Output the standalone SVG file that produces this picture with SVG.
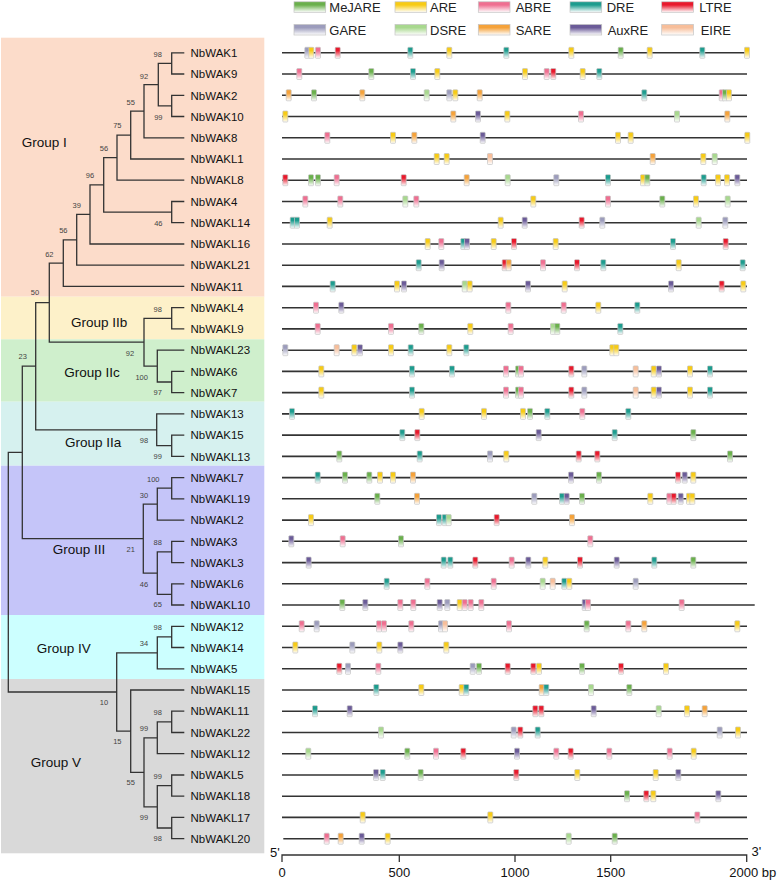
<svg xmlns="http://www.w3.org/2000/svg" width="777" height="884" viewBox="0 0 777 884">
<style>
text{font-family:"Liberation Sans",Arial,sans-serif;fill:#111}
.lf{font-size:11.5px}
.gp{font-size:13.5px}
.bs{font-size:7.5px;fill:#444;text-anchor:middle}
.lg{font-size:13px;fill:#222}
.ax{font-size:13px;fill:#111}
.ln{stroke:#333;stroke-width:1.6}
.tr{fill:none;stroke:#333;stroke-width:1.3}
.sw{stroke:#c4c4c4;stroke-width:0.7}
</style>
<defs>
<linearGradient id="gMe" x1="0" y1="0" x2="0" y2="1"><stop offset="0" stop-color="#6AB04C"/><stop offset="0.3" stop-color="#6AB04C"/><stop offset="1" stop-color="#fff"/></linearGradient>
<linearGradient id="gAR" x1="0" y1="0" x2="0" y2="1"><stop offset="0" stop-color="#F7CB15"/><stop offset="0.3" stop-color="#F7CB15"/><stop offset="1" stop-color="#fff"/></linearGradient>
<linearGradient id="gAB" x1="0" y1="0" x2="0" y2="1"><stop offset="0" stop-color="#EF6F91"/><stop offset="0.3" stop-color="#EF6F91"/><stop offset="1" stop-color="#fff"/></linearGradient>
<linearGradient id="gDR" x1="0" y1="0" x2="0" y2="1"><stop offset="0" stop-color="#1D9C8E"/><stop offset="0.3" stop-color="#1D9C8E"/><stop offset="1" stop-color="#fff"/></linearGradient>
<linearGradient id="gLT" x1="0" y1="0" x2="0" y2="1"><stop offset="0" stop-color="#E8192C"/><stop offset="0.3" stop-color="#E8192C"/><stop offset="1" stop-color="#fff"/></linearGradient>
<linearGradient id="gGA" x1="0" y1="0" x2="0" y2="1"><stop offset="0" stop-color="#9C9CBC"/><stop offset="0.3" stop-color="#9C9CBC"/><stop offset="1" stop-color="#fff"/></linearGradient>
<linearGradient id="gDS" x1="0" y1="0" x2="0" y2="1"><stop offset="0" stop-color="#A8D88E"/><stop offset="0.3" stop-color="#A8D88E"/><stop offset="1" stop-color="#fff"/></linearGradient>
<linearGradient id="gSA" x1="0" y1="0" x2="0" y2="1"><stop offset="0" stop-color="#F5A23A"/><stop offset="0.3" stop-color="#F5A23A"/><stop offset="1" stop-color="#fff"/></linearGradient>
<linearGradient id="gAX" x1="0" y1="0" x2="0" y2="1"><stop offset="0" stop-color="#6B5B98"/><stop offset="0.3" stop-color="#6B5B98"/><stop offset="1" stop-color="#fff"/></linearGradient>
<linearGradient id="gEI" x1="0" y1="0" x2="0" y2="1"><stop offset="0" stop-color="#F7BE9A"/><stop offset="0.3" stop-color="#F7BE9A"/><stop offset="1" stop-color="#fff"/></linearGradient>
<rect id="Me" x="-2.5" y="-5.5" width="5" height="11" rx="0.8" fill="url(#gMe)" class="sw"/>
<rect id="AR" x="-2.5" y="-5.5" width="5" height="11" rx="0.8" fill="url(#gAR)" class="sw"/>
<rect id="AB" x="-2.5" y="-5.5" width="5" height="11" rx="0.8" fill="url(#gAB)" class="sw"/>
<rect id="DR" x="-2.5" y="-5.5" width="5" height="11" rx="0.8" fill="url(#gDR)" class="sw"/>
<rect id="LT" x="-2.5" y="-5.5" width="5" height="11" rx="0.8" fill="url(#gLT)" class="sw"/>
<rect id="GA" x="-2.5" y="-5.5" width="5" height="11" rx="0.8" fill="url(#gGA)" class="sw"/>
<rect id="DS" x="-2.5" y="-5.5" width="5" height="11" rx="0.8" fill="url(#gDS)" class="sw"/>
<rect id="SA" x="-2.5" y="-5.5" width="5" height="11" rx="0.8" fill="url(#gSA)" class="sw"/>
<rect id="AX" x="-2.5" y="-5.5" width="5" height="11" rx="0.8" fill="url(#gAX)" class="sw"/>
<rect id="EI" x="-2.5" y="-5.5" width="5" height="11" rx="0.8" fill="url(#gEI)" class="sw"/>
</defs>
<rect width="777" height="884" fill="#fff"/>
<g id="group-bands">
<rect x="1" y="37.7" width="263.3" height="259" fill="#FCDCCA"/>
<rect x="1" y="296.7" width="263.3" height="42.6" fill="#FDF1C9"/>
<rect x="1" y="339.3" width="263.3" height="62.4" fill="#CFEFCC"/>
<rect x="1" y="401.7" width="263.3" height="64" fill="#D6F1EF"/>
<rect x="1" y="465.7" width="263.3" height="149.3" fill="#C5C5F9"/>
<rect x="1" y="615" width="263.3" height="64" fill="#CCFFFF"/>
<rect x="1" y="679" width="263.3" height="174.3" fill="#D9D9D9"/>
<text class="gp" x="21.7" y="147">Group I</text>
<text class="gp" x="71" y="327">Group IIb</text>
<text class="gp" x="64.3" y="377">Group IIc</text>
<text class="gp" x="65" y="447.3">Group IIa</text>
<text class="gp" x="52.7" y="554">Group III</text>
<text class="gp" x="36.7" y="653.3">Group IV</text>
<text class="gp" x="30.7" y="766.7">Group V</text>
</g>
<g id="legend">
<rect x="294" y="1.8" width="31.7" height="10.5" fill="url(#gMe)" class="sw"/><text class="lg" x="329.3" y="11.7">MeJARE</text>
<rect x="395" y="1.8" width="31.7" height="10.5" fill="url(#gAR)" class="sw"/><text class="lg" x="430" y="11.7">ARE</text>
<rect x="478.3" y="1.8" width="31.7" height="10.5" fill="url(#gAB)" class="sw"/><text class="lg" x="515.7" y="11.7">ABRE</text>
<rect x="570" y="1.8" width="31.7" height="10.5" fill="url(#gDR)" class="sw"/><text class="lg" x="606.7" y="11.7">DRE</text>
<rect x="661.7" y="1.8" width="31.7" height="10.5" fill="url(#gLT)" class="sw"/><text class="lg" x="699.3" y="11.7">LTRE</text>
<rect x="294" y="24.5" width="31.7" height="10.5" fill="url(#gGA)" class="sw"/><text class="lg" x="329.3" y="35">GARE</text>
<rect x="395" y="24.5" width="31.7" height="10.5" fill="url(#gDS)" class="sw"/><text class="lg" x="430" y="35">DSRE</text>
<rect x="478.3" y="24.5" width="31.7" height="10.5" fill="url(#gSA)" class="sw"/><text class="lg" x="515.7" y="35">SARE</text>
<rect x="570" y="24.5" width="31.7" height="10.5" fill="url(#gAX)" class="sw"/><text class="lg" x="607.7" y="35">AuxRE</text>
<rect x="661.7" y="24.5" width="31.7" height="10.5" fill="url(#gEI)" class="sw"/><text class="lg" x="700.7" y="35">EIRE</text>
</g>
<g id="connectors">
<path class="tr" d="M184.3 52.8H171.7V74H184.3 M184.3 95.3H171.7V116.5H184.3 M171.7 63.4H158.3V105.9H171.7 M158.3 84.7H144V137.8H184.3 M144 111.2H130.7V159H184.3 M130.7 135.1H117V180.2H184.3 M184.3 201.5H171.7V222.7H184.3 M117 157.7H103.7V212.1H171.7 M103.7 184.9H90V244H184.3 M90 214.4H76.7V265.2H184.3 M76.7 239.8H63.3V286.4H184.3 M184.3 307.7H171.7V328.9H184.3 M184.3 371.4H171.7V392.6H184.3 M184.3 350.2H157.3V382H171.7 M171.7 318.3H144V366.1H157.3 M63.3 263.1H49.3V342.2H144 M184.3 435.1H171.7V456.4H184.3 M184.3 413.9H156.7V445.7H171.7 M49.3 302.6H35.7V429.8H156.7 M184.3 477.6H171.7V498.8H184.3 M171.7 488.2H157.3V520.1H184.3 M184.3 541.3H171.7V562.6H184.3 M184.3 583.8H171.7V605H184.3 M171.7 551.9H157.3V594.4H171.7 M157.3 504.1H143.3V573.2H157.3 M35.7 366.2H22.3V538.6H143.3 M184.3 626.3H171.7V647.5H184.3 M171.7 636.9H157.3V668.8H184.3 M184.3 711.2H171.7V732.5H184.3 M171.7 721.9H157.3V753.7H184.3 M184.3 775H171.7V796.2H184.3 M184.3 817.4H171.7V838.7H184.3 M171.7 785.6H157.3V828H171.7 M157.3 737.8H144V806.8H157.3 M184.3 690H130.7V772.3H144 M157.3 652.8H116.7V731.2H130.7 M22.3 452.4H8.3V692H116.7"/>
<g id="bootstrap">
<text class="bs" x="157.7" y="57">98</text><text class="bs" x="144" y="78.7">92</text><text class="bs" x="130.7" y="105">55</text><text class="bs" x="158.3" y="120.4">99</text><text class="bs" x="117.3" y="128.4">75</text><text class="bs" x="104" y="151">56</text><text class="bs" x="90" y="177.7">96</text><text class="bs" x="76.7" y="207.7">39</text><text class="bs" x="158.3" y="226">46</text><text class="bs" x="63.3" y="232.7">56</text><text class="bs" x="49.3" y="256.7">62</text><text class="bs" x="35" y="295.4">50</text>
<text class="bs" x="157.7" y="312">98</text><text class="bs" x="130" y="356">92</text><text class="bs" x="22.7" y="359.4">23</text><text class="bs" x="141.7" y="380">100</text><text class="bs" x="157.7" y="395.4">97</text><text class="bs" x="144" y="443.4">98</text><text class="bs" x="157.7" y="459.4">99</text><text class="bs" x="153.3" y="482">100</text><text class="bs" x="144" y="497.7">30</text><text class="bs" x="130.7" y="552">21</text><text class="bs" x="157.7" y="545.4">88</text><text class="bs" x="144" y="586.7">46</text><text class="bs" x="157.7" y="606.7">65</text>
<text class="bs" x="157.7" y="630">98</text><text class="bs" x="144" y="646">34</text><text class="bs" x="104" y="705.4">10</text><text class="bs" x="157.7" y="715.4">98</text><text class="bs" x="144" y="731">99</text><text class="bs" x="117.3" y="744.4">15</text><text class="bs" x="157.7" y="778.7">99</text><text class="bs" x="130.7" y="785.4">55</text><text class="bs" x="144" y="820">99</text><text class="bs" x="157.7" y="841">98</text>
</g>
</g>
<g id="g-NbWAK1" transform="translate(0,52.8)"><text class="lf" x="190.5" y="4.2">NbWAK1</text><line class="ln" x1="282" x2="747"/><use href="#GA" x="307.3"/><use href="#AR" x="311.3"/><use href="#AB" x="318"/><use href="#LT" x="337.7"/><use href="#DR" x="410.3"/><use href="#AR" x="449.3"/><use href="#DR" x="506.3"/><use href="#AR" x="571.3"/><use href="#Me" x="620.7"/><use href="#AR" x="649.7"/><use href="#DR" x="702.3"/><use href="#AR" x="747"/></g>
<g id="g-NbWAK9" transform="translate(0,74)"><text class="lf" x="190.5" y="4.2">NbWAK9</text><line class="ln" x1="282" x2="747"/><use href="#AB" x="299.3"/><use href="#Me" x="371.3"/><use href="#DR" x="413"/><use href="#AR" x="437.3"/><use href="#AR" x="525"/><use href="#AB" x="546.7"/><use href="#LT" x="553.3"/><use href="#AR" x="582.7"/><use href="#DR" x="599.3"/></g>
<g id="g-NbWAK2" transform="translate(0,95.3)"><text class="lf" x="190.5" y="4.2">NbWAK2</text><line class="ln" x1="282" x2="747"/><use href="#SA" x="288.7"/><use href="#Me" x="314"/><use href="#SA" x="362.3"/><use href="#DS" x="426.7"/><use href="#GA" x="449.3"/><use href="#AR" x="455.3"/><use href="#SA" x="479.7"/><use href="#DR" x="644.3"/><use href="#AB" x="721.7"/><use href="#Me" x="725"/><use href="#AR" x="729"/></g>
<g id="g-NbWAK10" transform="translate(0,116.5)"><text class="lf" x="190.5" y="4.2">NbWAK10</text><line class="ln" x1="282" x2="747"/><use href="#AR" x="285.3"/><use href="#SA" x="453.3"/><use href="#AX" x="478"/><use href="#AR" x="507.3"/><use href="#AB" x="581"/><use href="#DS" x="677"/><use href="#SA" x="727.3"/></g>
<g id="g-NbWAK8" transform="translate(0,137.8)"><text class="lf" x="190.5" y="4.2">NbWAK8</text><line class="ln" x1="282" x2="747"/><use href="#AB" x="327.3"/><use href="#AR" x="393"/><use href="#SA" x="414.3"/><use href="#AX" x="482.7"/><use href="#AR" x="618"/><use href="#AR" x="630.7"/><use href="#AR" x="747.3"/></g>
<g id="g-NbWAKL1" transform="translate(0,159)"><text class="lf" x="190.5" y="4.2">NbWAKL1</text><line class="ln" x1="282" x2="747"/><use href="#AR" x="436.7"/><use href="#AR" x="446.7"/><use href="#EI" x="490"/><use href="#SA" x="652.7"/><use href="#AR" x="703.3"/><use href="#DS" x="714.7"/></g>
<g id="g-NbWAKL8" transform="translate(0,180.2)"><text class="lf" x="190.5" y="4.2">NbWAKL8</text><line class="ln" x1="282" x2="747"/><use href="#LT" x="285.3"/><use href="#Me" x="311"/><use href="#Me" x="318"/><use href="#AB" x="336.7"/><use href="#LT" x="403.7"/><use href="#SA" x="466.7"/><use href="#DS" x="507.7"/><use href="#GA" x="556.3"/><use href="#DR" x="608"/><use href="#AR" x="643"/><use href="#Me" x="647.3"/><use href="#DR" x="703.7"/><use href="#AR" x="718"/><use href="#AR" x="727"/><use href="#AX" x="737.3"/></g>
<g id="g-NbWAK4" transform="translate(0,201.5)"><text class="lf" x="190.5" y="4.2">NbWAK4</text><line class="ln" x1="282" x2="747"/><use href="#AB" x="305.3"/><use href="#AB" x="340.3"/><use href="#DS" x="405.3"/><use href="#AB" x="416.3"/><use href="#AR" x="533.3"/><use href="#AB" x="608"/><use href="#Me" x="662.3"/><use href="#AR" x="696"/><use href="#DS" x="727.7"/></g>
<g id="g-NbWAKL14" transform="translate(0,222.7)"><text class="lf" x="190.5" y="4.2">NbWAKL14</text><line class="ln" x1="282" x2="747"/><use href="#DR" x="292.7"/><use href="#DR" x="297"/><use href="#AR" x="329.7"/><use href="#AR" x="500.7"/><use href="#AX" x="524.7"/><use href="#LT" x="581.7"/><use href="#GA" x="602.3"/><use href="#DS" x="698.7"/><use href="#GA" x="725.3"/></g>
<g id="g-NbWAKL16" transform="translate(0,244)"><text class="lf" x="190.5" y="4.2">NbWAKL16</text><line class="ln" x1="282" x2="747"/><use href="#AR" x="427.7"/><use href="#AB" x="441.3"/><use href="#DR" x="463.3"/><use href="#AX" x="467"/><use href="#AR" x="493.7"/><use href="#LT" x="514"/><use href="#AR" x="555.7"/><use href="#DR" x="673"/><use href="#LT" x="725.7"/></g>
<g id="g-NbWAKL21" transform="translate(0,265.2)"><text class="lf" x="190.5" y="4.2">NbWAKL21</text><line class="ln" x1="282" x2="747"/><use href="#DR" x="418.7"/><use href="#AX" x="441.7"/><use href="#LT" x="504.7"/><use href="#SA" x="508.7"/><use href="#AB" x="543"/><use href="#LT" x="577"/><use href="#DR" x="603.3"/><use href="#AR" x="678.7"/><use href="#DR" x="742.7"/></g>
<g id="g-NbWAK11" transform="translate(0,286.4)"><text class="lf" x="190.5" y="4.2">NbWAK11</text><line class="ln" x1="282" x2="747"/><use href="#DR" x="332.7"/><use href="#AR" x="397"/><use href="#AX" x="404"/><use href="#DS" x="464.7"/><use href="#AR" x="469.7"/><use href="#AX" x="528"/><use href="#AR" x="564.7"/><use href="#AX" x="671"/><use href="#LT" x="721.7"/><use href="#AR" x="743.3"/></g>
<g id="g-NbWAKL4" transform="translate(0,307.7)"><text class="lf" x="190.5" y="4.2">NbWAKL4</text><line class="ln" x1="282" x2="747"/><use href="#AB" x="316"/><use href="#AX" x="341.3"/><use href="#AB" x="508.3"/><use href="#AB" x="563.7"/><use href="#AR" x="598.3"/><use href="#DR" x="637.3"/></g>
<g id="g-NbWAKL9" transform="translate(0,328.9)"><text class="lf" x="190.5" y="4.2">NbWAKL9</text><line class="ln" x1="282" x2="747"/><use href="#AB" x="317.7"/><use href="#AB" x="391"/><use href="#Me" x="421.3"/><use href="#AR" x="470.3"/><use href="#AB" x="510.7"/><use href="#DS" x="553"/><use href="#Me" x="557.3"/><use href="#DR" x="620.3"/></g>
<g id="g-NbWAKL23" transform="translate(0,350.2)"><text class="lf" x="190.5" y="4.2">NbWAKL23</text><line class="ln" x1="282" x2="747"/><use href="#GA" x="285.3"/><use href="#EI" x="336.7"/><use href="#AR" x="354.3"/><use href="#AX" x="360"/><use href="#AR" x="391"/><use href="#DR" x="410.7"/><use href="#AR" x="449.3"/><use href="#DR" x="466.3"/><use href="#AR" x="612.3"/><use href="#AR" x="616.3"/></g>
<g id="g-NbWAK6" transform="translate(0,371.4)"><text class="lf" x="190.5" y="4.2">NbWAK6</text><line class="ln" x1="282" x2="747"/><use href="#AR" x="321.3"/><use href="#DR" x="412"/><use href="#DR" x="452"/><use href="#AB" x="506"/><use href="#Me" x="518"/><use href="#AB" x="521"/><use href="#LT" x="571.3"/><use href="#GA" x="584.3"/><use href="#EI" x="635.7"/><use href="#AR" x="653.7"/><use href="#AX" x="659"/><use href="#AR" x="690"/><use href="#DR" x="710"/></g>
<g id="g-NbWAK7" transform="translate(0,392.6)"><text class="lf" x="190.5" y="4.2">NbWAK7</text><line class="ln" x1="282" x2="747"/><use href="#AR" x="321.3"/><use href="#DR" x="412"/><use href="#AB" x="506"/><use href="#Me" x="518"/><use href="#AB" x="521"/><use href="#LT" x="571.3"/><use href="#GA" x="584.3"/><use href="#EI" x="635.7"/><use href="#AR" x="653.7"/><use href="#AX" x="659"/><use href="#AR" x="690"/><use href="#DR" x="710"/></g>
<g id="g-NbWAK13" transform="translate(0,413.9)"><text class="lf" x="190.5" y="4.2">NbWAK13</text><line class="ln" x1="282" x2="747"/><use href="#DR" x="292"/><use href="#AR" x="421.7"/><use href="#AR" x="484"/><use href="#AR" x="523"/><use href="#Me" x="530"/><use href="#DR" x="547.3"/><use href="#AB" x="582.3"/><use href="#DR" x="628.3"/></g>
<g id="g-NbWAK15" transform="translate(0,435.1)"><text class="lf" x="190.5" y="4.2">NbWAK15</text><line class="ln" x1="282" x2="747"/><use href="#DR" x="402.3"/><use href="#LT" x="417.3"/><use href="#AX" x="538.7"/><use href="#DR" x="614.7"/><use href="#Me" x="693.3"/></g>
<g id="g-NbWAKL13" transform="translate(0,456.4)"><text class="lf" x="190.5" y="4.2">NbWAKL13</text><line class="ln" x1="282" x2="747"/><use href="#Me" x="339.3"/><use href="#DR" x="419.7"/><use href="#GA" x="490"/><use href="#AR" x="506.3"/><use href="#LT" x="578.7"/><use href="#LT" x="597.3"/><use href="#Me" x="730"/></g>
<g id="g-NbWAKL7" transform="translate(0,477.6)"><text class="lf" x="190.5" y="4.2">NbWAKL7</text><line class="ln" x1="282" x2="747"/><use href="#DR" x="317.7"/><use href="#Me" x="345"/><use href="#Me" x="369.3"/><use href="#AR" x="380"/><use href="#AR" x="393"/><use href="#SA" x="413"/><use href="#AX" x="571"/><use href="#Me" x="599"/><use href="#LT" x="678"/><use href="#AX" x="684.7"/><use href="#AR" x="693.3"/></g>
<g id="g-NbWAKL19" transform="translate(0,498.8)"><text class="lf" x="190.5" y="4.2">NbWAKL19</text><line class="ln" x1="282" x2="747"/><use href="#Me" x="377.3"/><use href="#SA" x="417"/><use href="#GA" x="534.3"/><use href="#DR" x="562"/><use href="#AX" x="566.7"/><use href="#Me" x="582"/><use href="#AR" x="650.3"/><use href="#AB" x="669.3"/><use href="#LT" x="673.7"/><use href="#AX" x="680.7"/><use href="#AR" x="689"/><use href="#AR" x="692.3"/></g>
<g id="g-NbWAKL2" transform="translate(0,520.1)"><text class="lf" x="190.5" y="4.2">NbWAKL2</text><line class="ln" x1="282" x2="747"/><use href="#AR" x="311"/><use href="#DR" x="439"/><use href="#DR" x="444.7"/><use href="#DS" x="448.7"/><use href="#LT" x="496.7"/><use href="#SA" x="572"/></g>
<g id="g-NbWAK3" transform="translate(0,541.3)"><text class="lf" x="190.5" y="4.2">NbWAK3</text><line class="ln" x1="282" x2="747"/><use href="#AX" x="291.3"/><use href="#AB" x="342.7"/><use href="#Me" x="401"/><use href="#AB" x="590.3"/></g>
<g id="g-NbWAKL3" transform="translate(0,562.6)"><text class="lf" x="190.5" y="4.2">NbWAKL3</text><line class="ln" x1="282" x2="747"/><use href="#AX" x="308.7"/><use href="#DR" x="443.7"/><use href="#DR" x="450.3"/><use href="#LT" x="475.3"/><use href="#AB" x="511.7"/><use href="#AX" x="528.3"/><use href="#AR" x="545.3"/><use href="#LT" x="580"/><use href="#AX" x="616.7"/><use href="#DR" x="654.3"/><use href="#Me" x="693.3"/></g>
<g id="g-NbWAKL6" transform="translate(0,583.8)"><text class="lf" x="190.5" y="4.2">NbWAKL6</text><line class="ln" x1="282" x2="747"/><use href="#DR" x="386.7"/><use href="#AB" x="427.3"/><use href="#AB" x="493.7"/><use href="#DS" x="542.7"/><use href="#EI" x="552.7"/><use href="#DR" x="564.3"/><use href="#AR" x="569.3"/><use href="#GA" x="635.7"/></g>
<g id="g-NbWAKL10" transform="translate(0,605)"><text class="lf" x="190.5" y="4.2">NbWAKL10</text><line class="ln" x1="282" x2="754.7"/><use href="#Me" x="342.3"/><use href="#AX" x="365.3"/><use href="#AB" x="400.3"/><use href="#AB" x="413.3"/><use href="#AX" x="439.7"/><use href="#GA" x="447.3"/><use href="#AR" x="459.7"/><use href="#AB" x="464.7"/><use href="#AB" x="470.7"/><use href="#AB" x="481.3"/><use href="#AX" x="584.7"/><use href="#AB" x="588"/><use href="#AB" x="681.7"/></g>
<g id="g-NbWAK12" transform="translate(0,626.3)"><text class="lf" x="190.5" y="4.2">NbWAK12</text><line class="ln" x1="282" x2="747"/><use href="#AB" x="301.7"/><use href="#GA" x="316.7"/><use href="#AB" x="379"/><use href="#AB" x="384"/><use href="#AB" x="411.3"/><use href="#GA" x="441"/><use href="#EI" x="445"/><use href="#AB" x="509"/><use href="#Me" x="586.7"/><use href="#AB" x="628.3"/><use href="#SA" x="644.3"/><use href="#AR" x="737.3"/></g>
<g id="g-NbWAK14" transform="translate(0,647.5)"><text class="lf" x="190.5" y="4.2">NbWAK14</text><line class="ln" x1="282" x2="747"/><use href="#AR" x="295.3"/><use href="#GA" x="352.3"/><use href="#AR" x="379.3"/><use href="#AX" x="400.3"/><use href="#AR" x="446.3"/></g>
<g id="g-NbWAK5" transform="translate(0,668.8)"><text class="lf" x="190.5" y="4.2">NbWAK5</text><line class="ln" x1="282" x2="747"/><use href="#LT" x="339.3"/><use href="#GA" x="348"/><use href="#AB" x="378.3"/><use href="#GA" x="472.7"/><use href="#Me" x="479"/><use href="#LT" x="507.7"/><use href="#LT" x="533.3"/><use href="#AR" x="539"/><use href="#Me" x="582"/><use href="#LT" x="621"/><use href="#AR" x="666"/></g>
<g id="g-NbWAKL15" transform="translate(0,690)"><text class="lf" x="190.5" y="4.2">NbWAKL15</text><line class="ln" x1="282" x2="747"/><use href="#DR" x="376.3"/><use href="#AR" x="421.3"/><use href="#AR" x="461.7"/><use href="#DR" x="466.3"/><use href="#SA" x="541.7"/><use href="#DR" x="546.3"/><use href="#DS" x="591"/><use href="#Me" x="629.3"/></g>
<g id="g-NbWAKL11" transform="translate(0,711.2)"><text class="lf" x="190.5" y="4.2">NbWAKL11</text><line class="ln" x1="282" x2="747"/><use href="#DR" x="315"/><use href="#AX" x="349.7"/><use href="#LT" x="535.3"/><use href="#LT" x="541.3"/><use href="#AX" x="593.7"/><use href="#DS" x="658.7"/><use href="#AR" x="687"/><use href="#SA" x="704.7"/></g>
<g id="g-NbWAKL22" transform="translate(0,732.5)"><text class="lf" x="190.5" y="4.2">NbWAKL22</text><line class="ln" x1="282" x2="747"/><use href="#DS" x="381"/><use href="#GA" x="513.7"/><use href="#LT" x="520.3"/><use href="#DR" x="537.7"/><use href="#GA" x="719.7"/><use href="#AR" x="738"/></g>
<g id="g-NbWAKL12" transform="translate(0,753.7)"><text class="lf" x="190.5" y="4.2">NbWAKL12</text><line class="ln" x1="282" x2="747"/><use href="#DS" x="308.3"/><use href="#Me" x="407.3"/><use href="#AB" x="436"/><use href="#LT" x="463.3"/><use href="#AX" x="517"/><use href="#AB" x="556.3"/><use href="#LT" x="570.7"/><use href="#AB" x="609.3"/><use href="#AB" x="669.7"/><use href="#AR" x="693.7"/></g>
<g id="g-NbWAKL5" transform="translate(0,775)"><text class="lf" x="190.5" y="4.2">NbWAKL5</text><line class="ln" x1="282" x2="747"/><use href="#AX" x="376"/><use href="#DR" x="382.7"/><use href="#Me" x="420.7"/><use href="#LT" x="516.3"/><use href="#AR" x="577.3"/><use href="#AR" x="655.7"/><use href="#AX" x="678.3"/></g>
<g id="g-NbWAKL18" transform="translate(0,796.2)"><text class="lf" x="190.5" y="4.2">NbWAKL18</text><line class="ln" x1="282" x2="747"/><use href="#Me" x="627"/><use href="#LT" x="646.3"/><use href="#AR" x="653.3"/><use href="#AX" x="718.3"/></g>
<g id="g-NbWAKL17" transform="translate(0,817.4)"><text class="lf" x="190.5" y="4.2">NbWAKL17</text><line class="ln" x1="282" x2="747"/><use href="#AR" x="362.7"/><use href="#AR" x="490.3"/><use href="#AB" x="697.3"/></g>
<g id="g-NbWAKL20" transform="translate(0,838.7)"><text class="lf" x="190.5" y="4.2">NbWAKL20</text><line class="ln" x1="283.3" x2="748"/><use href="#AB" x="326.7"/><use href="#SA" x="340.7"/><use href="#AX" x="361.7"/><use href="#AR" x="387.7"/><use href="#DS" x="568.7"/><use href="#Me" x="614.7"/></g>
<g id="axis">
<path class="tr" d="M282 862V855H746.7V862 M399.3 855V862 M515 855V862 M610.7 855V862"/>
<text class="ax" x="270" y="856.5">5'</text>
<text class="ax" x="751.5" y="856">3'</text>
<text class="ax" x="282" y="877.3" text-anchor="middle">0</text>
<text class="ax" x="399.3" y="877.3" text-anchor="middle">500</text>
<text class="ax" x="515" y="877.3" text-anchor="middle">1000</text>
<text class="ax" x="610.7" y="877.3" text-anchor="middle">1500</text>
<text class="ax" x="729.3" y="877.3">2000 bp</text>
</g>
</svg>
